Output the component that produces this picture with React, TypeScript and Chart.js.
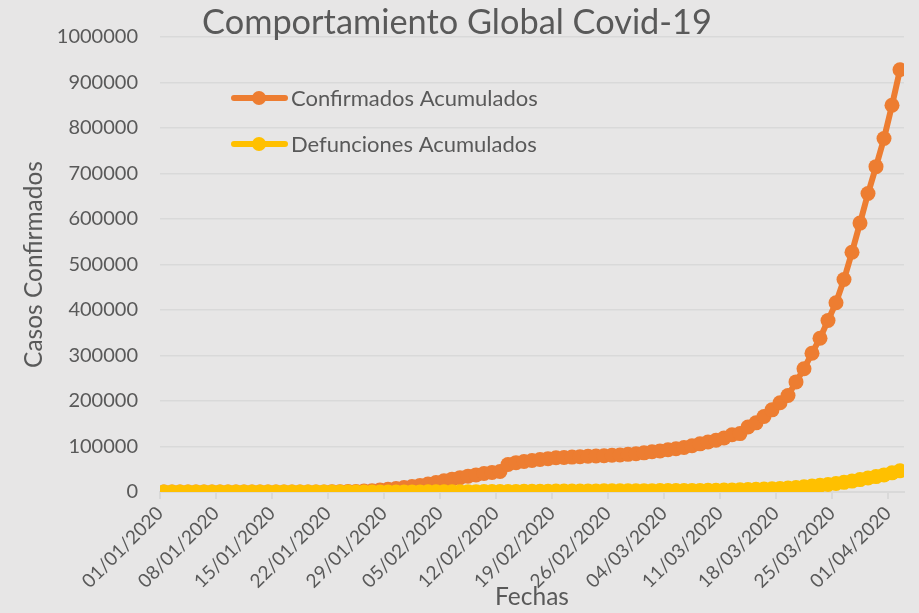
import React, { useEffect, useRef } from 'react';
import { Chart, registerables } from 'chart.js';

Chart.register(...registerables);

const titleText = 'Comportamiento Global Covid-19';
const yAxisTitle = 'Casos Confirmados';
const xAxisTitle = 'Fechas';

// one label every 7 days, day 0 = 01/01/2020
const tickLabels = [
  '01/01/2020', '08/01/2020', '15/01/2020', '22/01/2020', '29/01/2020',
  '05/02/2020', '12/02/2020', '19/02/2020', '26/02/2020', '04/03/2020',
  '11/03/2020', '18/03/2020', '25/03/2020', '01/04/2020',
];

// daily values from 01/01/2020 to 02/04/2020 (93 days)
const confirmados = [
  27, 27, 27, 44, 44, 59, 59, 59, 59, 59,
  59, 59, 59, 60, 60, 61, 62, 62, 62, 121,
  199, 314, 581, 846, 1320, 2014, 2798, 4593, 6065, 7818,
  9826, 11953, 14557, 17391, 20630, 24554, 28276, 31481, 34886, 37558,
  40554, 43103, 45171, 60374, 64449, 67100, 69197, 71329, 73332, 75184,
  75700, 76677, 77673, 78651, 79205, 79748, 80904, 81393, 82756, 84124,
  86013, 88371, 90309, 92844, 95124, 97886, 101800, 105836, 109835, 113582,
  118582, 125865, 128343, 143000, 152000, 166000, 180500, 196000, 212000, 242000,
  271000, 305000, 338000, 377000, 416000, 467000, 527000, 591000, 656000, 715000,
  777000, 850000, 928000,
];

const defunciones = [
  0, 0, 0, 0, 0, 0, 0, 0, 0, 0,
  0, 1, 1, 1, 1, 1, 1, 2, 2, 3,
  4, 6, 17, 18, 26, 42, 56, 82, 131, 133,
  171, 213, 259, 362, 426, 492, 564, 634, 719, 806,
  906, 1010, 1110, 1120, 1370, 1520, 1670, 1770, 1870, 2010,
  2120, 2250, 2250, 2460, 2470, 2630, 2710, 2770, 2810, 2870,
  2940, 3000, 3085, 3160, 3250, 3350, 3460, 3560, 3800, 3990,
  4260, 4620, 4720, 5400, 5820, 6440, 7130, 7900, 8730, 9870,
  11300, 13000, 14600, 16500, 18600, 21200, 24000, 27200, 30650, 33900,
  37600, 42100, 46500,
];

const ORANGE = '#ED7D31';
const YELLOW = '#FFC000';
const TEXT = '#595959';
const GRID = '#d9d9d9';
const BG = '#e7e6e6';
const FONT = 'Lato';

export default function App() {
  const ref = useRef<HTMLCanvasElement>(null);

  useEffect(() => {
    if (!ref.current) return;

    const overlay = {
      id: 'overlay',
      afterDraw(chart: any) {
        const ctx = chart.ctx as CanvasRenderingContext2D;
        ctx.save();
        ctx.fillStyle = TEXT;
        // title
        let fs = 30;
        ctx.font = `${fs}px ${FONT}`;
        fs = fs * 510 / ctx.measureText(titleText).width;
        ctx.font = `${fs}px ${FONT}`;
        ctx.textAlign = 'center';
        ctx.textBaseline = 'alphabetic';
        ctx.fillText(titleText, 457, 34);

        // legend
        const rows = [
          { label: chart.data.datasets[0].label, color: ORANGE, y: 98 },
          { label: chart.data.datasets[1].label, color: YELLOW, y: 144 },
        ];
        let lfs = 22;
        ctx.font = `${lfs}px ${FONT}`;
        lfs = lfs * 247 / ctx.measureText(rows[0].label).width;
        ctx.font = `${lfs}px ${FONT}`;
        ctx.textAlign = 'left';
        ctx.textBaseline = 'middle';
        for (const r of rows) {
          ctx.strokeStyle = r.color;
          ctx.lineWidth = 6;
          ctx.lineCap = 'round';
          ctx.beginPath();
          ctx.moveTo(234, r.y);
          ctx.lineTo(285, r.y);
          ctx.stroke();
          ctx.fillStyle = r.color;
          ctx.beginPath();
          ctx.arc(259, r.y, 7, 0, Math.PI * 2);
          ctx.fill();
          ctx.fillStyle = TEXT;
          ctx.fillText(r.label, 291, r.y + 1);
        }
        ctx.restore();
      },
    };

    const chart = new Chart(ref.current, {
      type: 'line',
      data: {
        datasets: [
          {
            label: 'Confirmados Acumulados',
            data: confirmados.map((v, i) => ({ x: i, y: v })),
            borderColor: ORANGE,
            backgroundColor: ORANGE,
            borderWidth: 6,
            pointRadius: 7.5,
            pointBorderWidth: 0,
            pointBackgroundColor: ORANGE,
            order: 2,
          },
          {
            label: 'Defunciones Acumulados',
            data: defunciones.map((v, i) => ({ x: i, y: v })),
            borderColor: YELLOW,
            backgroundColor: YELLOW,
            borderWidth: 6,
            pointRadius: 7.5,
            pointBorderWidth: 0,
            pointBackgroundColor: YELLOW,
            order: 1,
          },
        ],
      },
      options: {
        animation: false,
        responsive: true,
        maintainAspectRatio: false,
        layout: { padding: { top: 37, right: 15, left: 0, bottom: 0 } },
        plugins: {
          legend: { display: false },
          title: { display: false },
          tooltip: { enabled: false },
        },
        scales: {
          x: {
            type: 'linear',
            min: -0.5,
            max: confirmados.length - 0.5,
            afterBuildTicks: (scale: any) => {
              scale.ticks = tickLabels.map((_, k) => ({ value: k * 7 - 0.5 }));
            },
            afterFit: (scale: any) => {
              scale.height = 121;
            },
            ticks: {
              autoSkip: false,
              minRotation: 45,
              maxRotation: 45,
              padding: 3,
              color: TEXT,
              font: { family: FONT, size: 19 },
              callback: (value: any) => tickLabels[Math.round((Number(value) + 0.5) / 7)] ?? '',
            },
            grid: {
              display: true,
              drawOnChartArea: false,
              drawTicks: true,
              tickLength: 7,
              color: GRID,
              lineWidth: 2,
            },
            border: { display: true, color: GRID, width: 2 },
            title: {
              display: true,
              text: xAxisTitle,
              color: TEXT,
              font: { family: FONT, size: 24.5 },
              padding: { top: 0, bottom: 1 },
            },
          },
          y: {
            type: 'linear',
            min: 0,
            max: 1000000,
            afterFit: (scale: any) => {
              scale.width = 160;
            },
            ticks: {
              stepSize: 100000,
              padding: 22,
              color: TEXT,
              font: { family: FONT, size: 20 },
              callback: (value: any) => String(value),
            },
            grid: {
              color: GRID,
              lineWidth: 1.5,
              drawTicks: false,
            },
            border: { display: false },
            title: {
              display: true,
              text: yAxisTitle,
              color: TEXT,
              font: { family: FONT, size: 24.5 },
              padding: { top: 19, bottom: 0 },
            },
          },
        },
      },
      plugins: [overlay],
    });

    return () => chart.destroy();
  }, []);

  return (
    <div style={{ position: 'fixed', left: 0, top: 0, width: 919, height: 613, background: BG }}>
      <canvas ref={ref} />
    </div>
  );
}
